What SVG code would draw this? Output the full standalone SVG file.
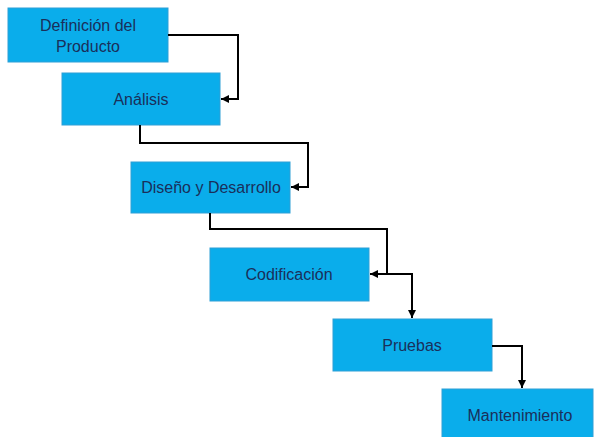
<svg xmlns="http://www.w3.org/2000/svg" width="595" height="437" viewBox="0 0 595 437">
<style>
.box{fill:#0AADEB;stroke:#2E9FD6;stroke-width:1}
.lbl{font-family:"Liberation Sans",Arial,sans-serif;font-size:16px;fill:#1A2F5A;text-anchor:middle}
.con{fill:none;stroke:#000;stroke-width:2}
</style>
<defs>
<marker id="ah" viewBox="0 0 10 10" refX="10" refY="5" markerWidth="4" markerHeight="4" orient="auto" markerUnits="strokeWidth">
<path d="M0,0 L10,5 L0,10 z" fill="#000"/>
</marker>
</defs>
<rect width="595" height="437" fill="#fff"/>
<g id="n1"><rect class="box" x="8" y="8" width="160" height="54"/><text class="lbl" x="88" y="31">Definición del</text><text class="lbl" x="88" y="52">Producto</text></g>
<g id="n2"><rect class="box" x="62" y="73" width="158" height="52"/><text class="lbl" x="141" y="105">Análisis</text></g>
<g id="n3"><rect class="box" x="131" y="162" width="159" height="51"/><text class="lbl" x="211" y="193">Diseño y Desarrollo</text></g>
<g id="n4"><rect class="box" x="210" y="248" width="159" height="53"/><text class="lbl" x="289" y="280">Codificación</text></g>
<g id="n5"><rect class="box" x="333" y="319" width="159" height="52"/><text class="lbl" x="412" y="351">Pruebas</text></g>
<g id="n6"><rect class="box" x="442" y="389" width="151" height="52"/><text class="lbl" x="520" y="421">Mantenimiento</text></g>
<g id="connectors">
<path class="con" d="M168,35 H238 V99 H221" marker-end="url(#ah)"/>
<path class="con" d="M140,125 V143 H308 V187 H291" marker-end="url(#ah)"/>
<path class="con" d="M210,213 V229 H387 V274 H370" marker-end="url(#ah)"/>
<path class="con" d="M387,274 H412 V318" marker-end="url(#ah)"/>
<path class="con" d="M492,346 H522 V388" marker-end="url(#ah)"/>
</g>
</svg>
